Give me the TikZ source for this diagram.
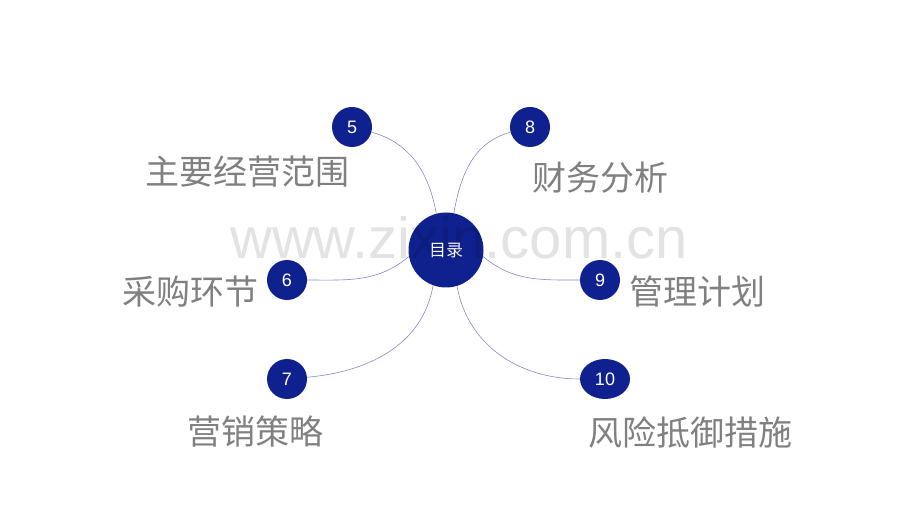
\documentclass[tikz,border=0pt]{standalone}
\usepackage{fontspec}
\setmainfont{Liberation Sans}
\newfontfamily\cjk{Noto Sans CJK SC}
\usetikzlibrary{shapes.geometric}
\definecolor{navy}{RGB}{15,33,143}
\definecolor{wirec}{RGB}{135,135,205}
\definecolor{txt}{RGB}{128,128,128}
\begin{document}
\begin{tikzpicture}[x=1pt, y=-1pt,
	num/.style={circle, fill=navy, text=white, minimum size=40pt, inner sep=0pt, font=\fontsize{18}{18}\selectfont},
	lab/.style={text=txt, font=\cjk\fontsize{34}{34}\selectfont},
	wire/.style={draw=wirec, line width=0.6pt}]
	\useasboundingbox (0,0) rectangle (920,518);
	\node[num, minimum size=75pt, font=\cjk\fontsize{17}{17}\selectfont] (z) at (446,250) {目录};
	\node[num] (n5) at (352,127) {5};
	\node[num] (n8) at (530,127) {8};
	\node[num] (n6) at (287,280) {6};
	\node[num] (n9) at (600,280) {9};
	\node[num] (n7) at (287,379) {7};
	\node[num, ellipse, minimum width=50pt, minimum height=40pt] (n10) at (605,379) {10};
	\draw[wire] (n5) to[out=-15, in=100] (z.105);
	\draw[wire] (n8) to[out=195, in=80] (z.78);
	\draw[wire] (n6) to[out=0, in=-140] (z.190);
	\draw[wire] (n9) to[out=180, in=-40] (z.-10);
	\draw[wire] (n7) to[out=5, in=-100] (z.-110);
	\draw[wire] (n10) to[out=180, in=-80] (z.-73);
	\node[lab] (t5)  at (247,172) {主要经营范围};
	\node[lab] (t8)  at (600,178) {财务分析};
	\node[lab] (t6)  at (190,292) {采购环节};
	\node[lab] (t9)  at (697,292) {管理计划};
	\node[lab] (t7)  at (255,432) {营销策略};
	\node[lab] (t10) at (690,432) {风险抵御措施};
	\node[anchor=base, text=black, text opacity=0.11, font=\fontsize{58}{58}\selectfont] (wm) at (459,259) {www.zixin.com.cn};
\end{tikzpicture}
\end{document}
